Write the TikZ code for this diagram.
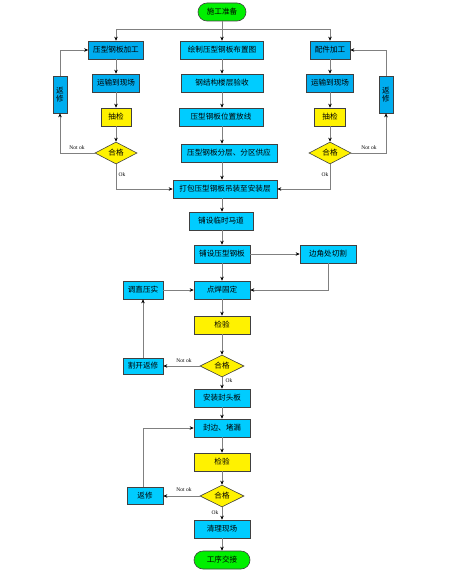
\documentclass[tikz,border=0pt]{standalone}
\usepackage{fontspec}
\setmainfont{Liberation Serif}
\newfontfamily\cjk{Noto Sans CJK SC}
\usetikzlibrary{shapes.geometric,arrows.meta}

\tikzset{
  base/.style={draw=black!75, line width=0.6pt, minimum height=18pt, inner sep=1pt, font=\cjk\fontsize{7.6}{8.6}\selectfont},
  sidebox/.style={base, fill=cyan},
  midbox/.style={base, fill={rgb,255:red,0;green,204;blue,255}},
  testbox/.style={base, fill=yellow},
  okdia/.style={base, diamond, aspect=1.9, fill=yellow, minimum height=22pt, minimum width=42pt, inner sep=0pt},
  term/.style={base, rounded corners=9pt, fill={rgb,255:red,0;green,240;blue,0}},
  arr/.style={draw=gray, line width=0.7pt, -{Stealth[length=4pt,width=3.5pt,black]}},
  lab/.style={font=\fontsize{5.5}{6.5}\selectfont}
}

\begin{document}
\begin{tikzpicture}[x=1pt,y=-1pt]
    \useasboundingbox (0,0) rectangle (450,578);

    \node[term, minimum width=48pt] (start) at (222,12) {施工准备};
    \coordinate (bar) at (222,29);

    \node[sidebox, minimum width=55pt] (la) at (116,50) {压型钢板加工};
    \node[sidebox, minimum width=47pt] (lb) at (116,83) {运输到现场};
    \node[testbox, minimum width=30pt] (lc) at (116,117) {抽检};
    \node[okdia] (ld) at (116,153) {合格};
    \node[sidebox, minimum width=14pt, minimum height=37pt, align=center] (lfix) at (60,94.5) {返\\修};

    \node[sidebox, minimum width=40pt] (ra) at (330,50) {配件加工};
    \node[sidebox, minimum width=47pt] (rb) at (330,83) {运输到现场};
    \node[testbox, minimum width=31pt] (rc) at (330,117) {抽检};
    \node[okdia] (rd) at (330,153) {合格};
    \node[sidebox, minimum width=14pt, minimum height=37pt, align=center] (rfix) at (386,94.5) {返\\修};

    \node[midbox, minimum width=83pt] (ma) at (222,50) {绘制压型钢板布置图};
    \node[midbox, minimum width=82pt] (mb) at (222,83) {钢结构楼层验收};
    \node[midbox, minimum width=84pt] (mc) at (221,117) {压型钢板位置放线};
    \node[midbox, minimum width=96pt] (md) at (229,153) {压型钢板分层、分区供应};
    \node[midbox, minimum width=104pt] (lift) at (225,189) {打包压型钢板吊装至安装层};
    \node[midbox, minimum width=64pt] (road) at (221,221) {铺设临时马道};
    \node[midbox, minimum width=56pt] (lay) at (222,254) {铺设压型钢板};
    \node[midbox, minimum width=56pt] (cut) at (328,254) {边角处切割};
    \node[midbox, minimum width=56pt] (weld) at (222,290) {点焊固定};
    \node[midbox, minimum width=40pt] (press) at (143,290) {调直压实};
    \node[testbox, minimum width=56pt] (testa) at (222,325) {检验};
    \node[okdia, minimum width=44pt] (oka) at (222,366) {合格};
    \node[midbox, minimum width=40pt, minimum height=16pt] (reopen) at (143,366) {割开返修};
    \node[midbox, minimum width=56pt] (head) at (222,398) {安装封头板};
    \node[midbox, minimum width=56pt] (seal) at (222,428) {封边、堵漏};
    \node[testbox, minimum width=56pt] (testb) at (222,462) {检验};
    \node[okdia, minimum width=44pt] (okb) at (222,496) {合格};
    \node[midbox, minimum width=36pt, minimum height=17pt] (fixb) at (145,496) {返修};
    \node[midbox, minimum width=56pt] (clean) at (222,529) {清理现场};
    \node[term, minimum width=56pt] (finish) at (222,560) {工序交接};

    \draw[arr] (start) to (ma);
    \draw[arr] (bar) -| (la);
    \draw[arr] (bar) -| (ra);

    \draw[arr] (la) to (lb);
    \draw[arr] (lb) to (lc);
    \draw[arr] (lc) to (ld);
    \draw[arr] (ld.west) -| (lfix);
    \draw[arr] (lfix) |- (la);
    \draw[arr] (ld) |- (lift);
    \node[lab] (lnot) at (77,148) {Not ok};
    \node[lab] (lok) at (122,175) {Ok};

    \draw[arr] (ra) to (rb);
    \draw[arr] (rb) to (rc);
    \draw[arr] (rc) to (rd);
    \draw[arr] (rd.east) -| (rfix);
    \draw[arr] (rfix) |- (ra);
    \draw[arr] (rd) |- (lift);
    \node[lab] (rnot) at (369,148) {Not ok};
    \node[lab] (rok) at (325,175) {Ok};

    \draw[arr] (ma) to (mb);
    \draw[arr] (mb) to (mb |- mc.north);
    \draw[arr] (mb |- mc.south) to (mb |- md.north);
    \draw[arr] (mb |- md.south) to (mb |- lift.north);
    \draw[arr] (mb |- lift.south) to (mb |- road.north);
    \draw[arr] (mb |- road.south) to (lay);
    \draw[arr] (lay) to (cut);
    \draw[arr] (lay) to (weld);
    \draw[arr] (cut) |- (weld);
    \draw[arr] (press) to (weld);
    \draw[arr] (weld) to (testa);
    \draw[arr] (testa) to (oka);
    \draw[arr] (oka) to (reopen);
    \draw[arr] (reopen) to (press);
    \node[lab] (notc) at (184,361) {Not ok};
    \draw[arr] (oka) to (head);
    \node[lab] (okc) at (229,381) {Ok};
    \draw[arr] (head) to (seal);
    \draw[arr] (seal) to (testb);
    \draw[arr] (testb) to (okb);
    \draw[arr] (okb) to (fixb);
    \draw[arr] (fixb.north -| press) |- (seal);
    \node[lab] (notd) at (184,490) {Not ok};
    \draw[arr] (okb) to (clean);
    \node[lab] (okd) at (215,513) {Ok};
    \draw[arr] (clean) to (finish);
\end{tikzpicture}
\end{document}
